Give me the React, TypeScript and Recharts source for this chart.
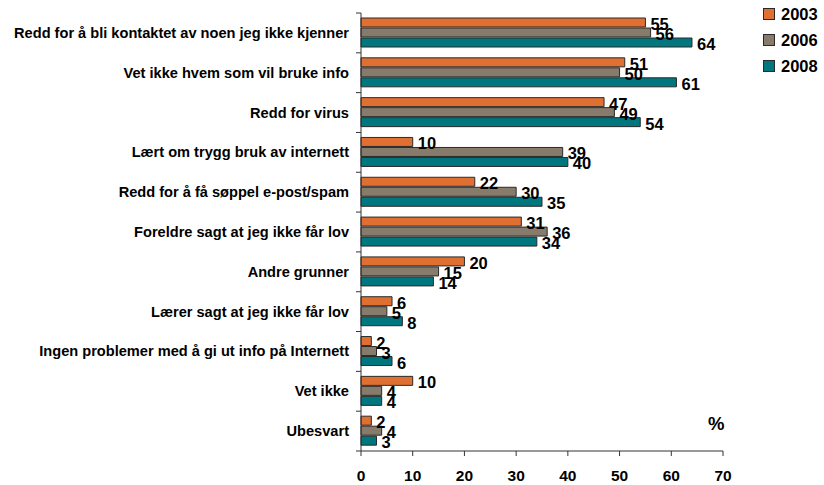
import React from 'react';
import { BarChart, Bar, XAxis, YAxis, LabelList } from 'recharts';

const categories = [
  'Redd for å bli kontaktet av noen jeg ikke kjenner',
  'Vet ikke hvem som vil bruke info',
  'Redd for virus',
  'Lært om trygg bruk av internett',
  'Redd for å få søppel e-post/spam',
  'Foreldre sagt at jeg ikke får lov',
  'Andre grunner',
  'Lærer sagt at jeg ikke får lov',
  'Ingen problemer med å gi ut info på Internett',
  'Vet ikke',
  'Ubesvart',
];
const s2003 = [55, 51, 47, 10, 22, 31, 20, 6, 2, 10, 2];
const s2006 = [56, 50, 49, 39, 30, 36, 15, 5, 3, 4, 4];
const s2008 = [64, 61, 54, 40, 35, 34, 14, 8, 6, 4, 3];
const seriesNames = ['2003', '2006', '2008'];
const seriesColors = ['#E07032', '#877B6B', '#00767E'];
const xTicks = [0, 10, 20, 30, 40, 50, 60, 70];

const data = categories.map((c, i) => ({ name: c, y2003: s2003[i], y2006: s2006[i], y2008: s2008[i] }));

const FONT = '"Liberation Sans", Arial, Helvetica, sans-serif';
const W = 824;
const H = 485;
const M = { top: 13, right: 101, bottom: 4, left: 0 };
const XH = 30;
const BAND = (H - M.top - M.bottom - XH) / categories.length;

function CatTick(props: any) {
  const { x, y, payload, index } = props;
  const lx = x + 7;
  return (
    <g>
      <text x={x} y={y} textAnchor="end" dominantBaseline="central" fontSize={14.6} fontWeight="bold" fill="#000" fontFamily={FONT}>
        {payload.value}
      </text>
      <line x1={lx} x2={lx + 5} y1={y - BAND / 2} y2={y - BAND / 2} stroke="#333" />
      {index === categories.length - 1 ? (
        <line x1={lx} x2={lx + 5} y1={y + BAND / 2} y2={y + BAND / 2} stroke="#333" />
      ) : null}
    </g>
  );
}

function ValueLabel(props: any) {
  const { x, y, width, height, value } = props;
  return (
    <text x={x + width + 5} y={y + height / 2 + 1.5} dominantBaseline="central" fontSize={16.5} fontWeight="bold" fill="#000" fontFamily={FONT}>
      {value}
    </text>
  );
}

export default function App() {
  const keys = ['y2003', 'y2006', 'y2008'];
  return (
    <div style={{ position: 'absolute', left: 0, top: 0, width: W, height: H, background: '#fff', fontFamily: FONT }}>
      <BarChart width={W} height={H} data={data} layout="vertical" margin={M} barSize={9} barGap={1}>
        <XAxis
          type="number"
          domain={[0, 70]}
          ticks={xTicks}
          height={XH}
          tickSize={5}
          tickMargin={14}
          axisLine={{ stroke: '#333' }}
          tickLine={{ stroke: '#333' }}
          tick={{ fontSize: 15.5, fontWeight: 'bold', fill: '#000', fontFamily: FONT }}
        />
        <YAxis
          type="category"
          dataKey="name"
          width={361}
          interval={0}
          tickSize={5}
          tickMargin={7}
          tickLine={false}
          axisLine={{ stroke: '#333' }}
          tick={<CatTick />}
        />
        {keys.map((k, i) => (
          <Bar key={k} dataKey={k} name={seriesNames[i]} fill={seriesColors[i]} stroke="#2a2a2a" strokeWidth={1} isAnimationActive={false}>
            <LabelList dataKey={k} content={<ValueLabel />} />
          </Bar>
        ))}
      </BarChart>
      <div style={{ position: 'absolute', left: 763, top: 1 }}>
        {seriesNames.map((n, i) => (
          <div key={n} style={{ display: 'flex', alignItems: 'center', height: 26 }}>
            <span style={{ display: 'inline-block', width: 10, height: 10, background: seriesColors[i], border: '1px solid #2a2a2a', marginRight: 6 }} />
            <span style={{ fontSize: 16.5, fontWeight: 'bold', color: '#000' }}>{n}</span>
          </div>
        ))}
      </div>
      <div style={{ position: 'absolute', left: 708, top: 413, fontSize: 18.5, fontWeight: 'bold', color: '#000' }}>%</div>
    </div>
  );
}
